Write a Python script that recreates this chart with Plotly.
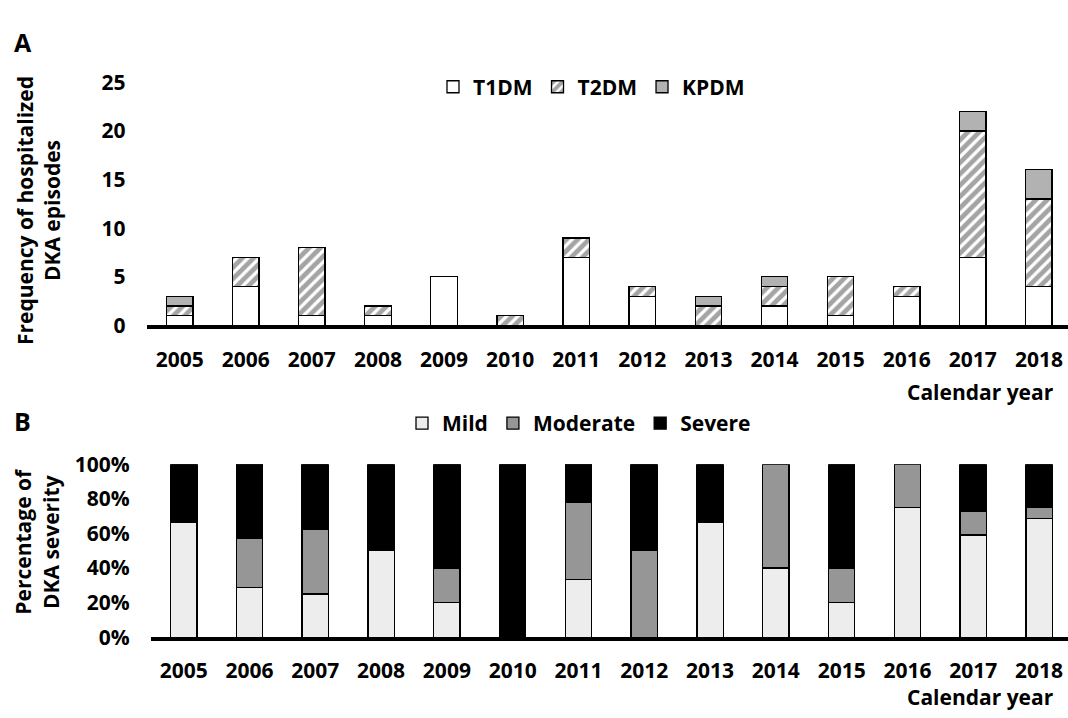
import plotly.graph_objects as go

W, H = 1068, 718

years = ["2005", "2006", "2007", "2008", "2009", "2010", "2011",
         "2012", "2013", "2014", "2015", "2016", "2017", "2018"]

# Panel A: frequency of hospitalized DKA episodes
t1dm = [1, 4, 1, 1, 5, 0, 7, 3, 0, 2, 1, 3, 7, 4]
t2dm = [1, 3, 7, 1, 0, 1, 2, 1, 2, 2, 4, 1, 13, 9]
kpdm = [1, 0, 0, 0, 0, 0, 0, 0, 1, 1, 0, 0, 2, 3]

# Panel B: percentage of DKA severity
mild = [66.7, 28.6, 25.0, 50.0, 20.0, 0, 33.3, 0, 66.7, 40.0, 20.0, 75.0, 59.1, 68.8]
moderate = [0, 28.6, 37.5, 0, 20.0, 0, 44.4, 50.0, 0, 60.0, 20.0, 25.0, 13.6, 6.2]
severe = [33.3, 42.8, 37.5, 50.0, 60.0, 100.0, 22.3, 50.0, 33.3, 0, 60.0, 0, 27.3, 25.0]

yticks_a = [0, 5, 10, 15, 20, 25]
yticks_b = [0, 20, 40, 60, 80, 100]
yticklabels_b = ["0%", "20%", "40%", "60%", "80%", "100%"]

FONT = "Open Sans"
FS = 21


def nz(arr):
    return [v if v else None for v in arr]


def px_x(p):
    return p / W


def px_y(p):
    return 1 - p / H


fig = go.Figure()
line = dict(color="black", width=1.3)

fig.add_trace(go.Bar(x=years, y=nz(t1dm), name="T1DM", xaxis="x", yaxis="y",
                     marker=dict(color="white", line=line), legend="legend", width=0.4))
fig.add_trace(go.Bar(x=years, y=nz(t2dm), name="T2DM", xaxis="x", yaxis="y",
                     marker=dict(color="white", line=line,
                                 pattern=dict(shape="/", fgcolor="#4a4a4a", bgcolor="white",
                                              size=8, solidity=0.6)),
                     legend="legend", width=0.4))
fig.add_trace(go.Bar(x=years, y=nz(kpdm), name="KPDM", xaxis="x", yaxis="y",
                     marker=dict(color="#b2b2b2", line=line), legend="legend", width=0.4))

fig.add_trace(go.Bar(x=years, y=nz(mild), name="Mild", xaxis="x2", yaxis="y2",
                     marker=dict(color="#ededed", line=line), legend="legend2", width=0.4))
fig.add_trace(go.Bar(x=years, y=nz(moderate), name="Moderate", xaxis="x2", yaxis="y2",
                     marker=dict(color="#969696", line=line), legend="legend2", width=0.4))
fig.add_trace(go.Bar(x=years, y=nz(severe), name="Severe", xaxis="x2", yaxis="y2",
                     marker=dict(color="black", line=line), legend="legend2", width=0.4))

tickfont = dict(family=FONT, size=FS, color="black", weight="bold")

xa_common = dict(type="category", showgrid=False, zeroline=False, showline=True,
                 linecolor="black", linewidth=4, ticks="", tickfont=tickfont,
                 ticklabelstandoff=12, fixedrange=True)
ya_common = dict(showgrid=False, zeroline=False, showline=False, ticks="",
                 tickfont=tickfont, ticklabelstandoff=20, fixedrange=True,
                 tickmode="array")

fig.update_layout(
    width=W, height=H,
    margin=dict(l=0, r=0, t=0, b=0),
    paper_bgcolor="white", plot_bgcolor="white",
    barmode="stack",
    font=dict(family=FONT, size=FS, color="black"),
    xaxis=dict(domain=[px_x(146.6), 1], range=[-0.5, 13.44], anchor="y", **xa_common),
    yaxis=dict(domain=[px_y(323), px_y(70)], range=[0, 25], tickvals=yticks_a,
               ticktext=[str(v) for v in yticks_a], anchor="x", **ya_common),
    xaxis2=dict(domain=[px_x(150.8), 1], range=[-0.5, 13.44], anchor="y2", **xa_common),
    yaxis2=dict(domain=[px_y(647.5), px_y(467.5)], range=[0, 100], tickvals=yticks_b,
                ticktext=yticklabels_b, anchor="x2", **ya_common),
    legend=dict(orientation="h", x=px_x(433), y=px_y(75), xanchor="left", yanchor="middle",
                font=dict(family=FONT, size=FS, color="black", weight="bold"),
                bgcolor="rgba(0,0,0,0)", traceorder="normal"),
    legend2=dict(orientation="h", x=px_x(402), y=px_y(425), xanchor="left", yanchor="middle",
                 font=dict(family=FONT, size=FS, color="black", weight="bold"),
                 bgcolor="rgba(0,0,0,0)", traceorder="normal"),
    showlegend=True,
)

ann_font = dict(family=FONT, size=FS, color="black", weight="bold")
annotations = [
    dict(text="A", x=px_x(12), y=px_y(28), xanchor="left", yanchor="middle",
         font=dict(family=FONT, size=25, color="black", weight="bold")),
    dict(text="B", x=px_x(12), y=px_y(422), xanchor="left", yanchor="middle",
         font=dict(family=FONT, size=25, color="black", weight="bold")),
    dict(text="Frequency of hospitalized<br>DKA episodes", textangle=-90,
         x=px_x(38), y=px_y(204), xanchor="center", yanchor="middle", font=ann_font),
    dict(text="Percentage of<br>DKA severity", textangle=-90,
         x=px_x(37), y=px_y(548), xanchor="center", yanchor="middle", font=ann_font),
    dict(text="Calendar year", x=px_x(1056), y=px_y(392), xanchor="right", yanchor="middle",
         font=ann_font),
    dict(text="Calendar year", x=px_x(1056), y=px_y(710), xanchor="right", yanchor="middle",
         font=ann_font),
]
for a in annotations:
    a.update(xref="paper", yref="paper", showarrow=False)
fig.update_layout(annotations=annotations)

fig.write_html("out.html",
               config={"displayModeBar": False, "staticPlot": True},
               post_script="document.body.style.margin='0';document.body.style.overflow='hidden';")
